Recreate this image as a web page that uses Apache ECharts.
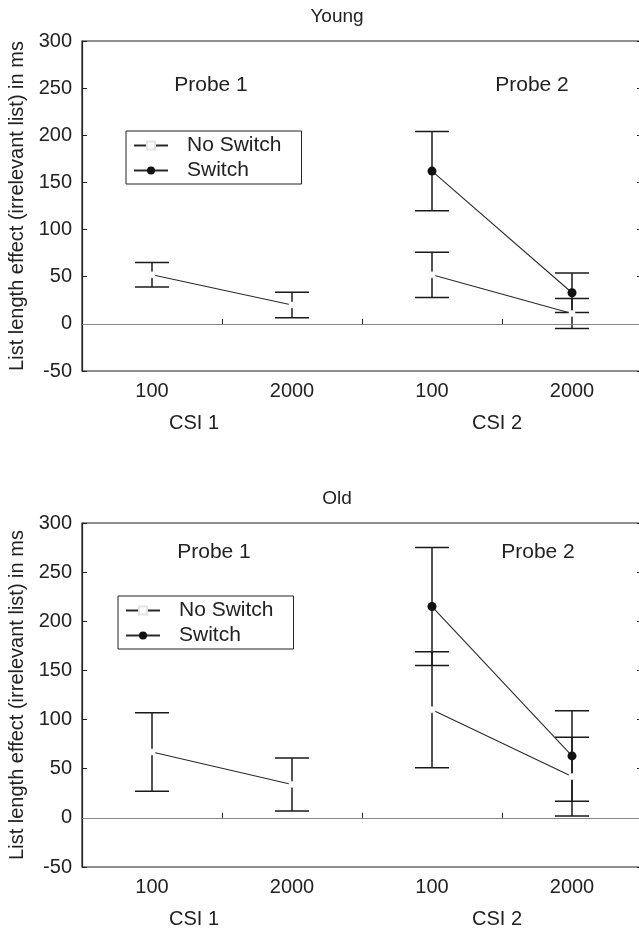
<!DOCTYPE html>
<html>
<head>
<meta charset="utf-8">
<script src="https://cdn.jsdelivr.net/npm/echarts@6/dist/echarts.min.js"></script>
<style>
html,body{margin:0;padding:0;background:#fff;}
#chart{width:639px;height:932px;}
</style>
</head>
<body>
<div id="chart"></div>
<script>
// ---- data ----
const categories = ['100', '2000', '100', '2000'];
const yTickMin = -50, yTickMax = 300, yTickStep = 50;

const youngNoSwitch    = [52, 20, 52, 11];
const youngNoSwitchErr = [13, 13.5, 24, 16];
const youngSwitch      = ['-', '-', 162, 33];
const youngSwitchErr   = ['-', '-', 42, 21];

const oldNoSwitch    = [67, 34, 110, 42];
const oldNoSwitchErr = [40, 27, 59, 40];
const oldSwitch      = ['-', '-', 215, 63];
const oldSwitchErr   = ['-', '-', 60, 46];

const panelTitles = ['Young', 'Old'];
const probeLabels = ['Probe 1', 'Probe 2'];
const csiLabels = ['CSI 1', 'CSI 2'];
const yName = 'List length effect (irrelevant list) in ms';
const seriesNames = ['No Switch', 'Switch'];

// ---- styling ----
const FONT = '"Liberation Sans", Arial, sans-serif';
const INK = '#222';

const chart = echarts.init(document.getElementById('chart'), null, {renderer: 'canvas'});

function probeSlice(vals, probe) {
  return vals.map((v, i) => (Math.floor(i / 2) === probe ? v : '-'));
}

function errData(vals, errs) {
  const out = [];
  vals.forEach((v, i) => {
    if (v !== '-' && errs[i] !== '-') out.push([i, v - errs[i], v + errs[i]]);
  });
  return out;
}

function errSeries(vals, errs, xi, yi) {
  return {
    type: 'custom',
    xAxisIndex: xi,
    yAxisIndex: yi,
    z: 2,
    silent: true,
    data: errData(vals, errs),
    encode: {x: 0, y: [1, 2]},
    renderItem: function (params, api) {
      const x = api.value(0);
      const lo = api.coord([x, api.value(1)]);
      const hi = api.coord([x, api.value(2)]);
      const hw = 17;
      const st = {stroke: '#1a1a1a', lineWidth: 1.5};
      return {
        type: 'group',
        children: [
          {type: 'line', shape: {x1: lo[0], y1: lo[1], x2: hi[0], y2: hi[1]}, style: st},
          {type: 'line', shape: {x1: lo[0] - hw, y1: lo[1], x2: lo[0] + hw, y2: lo[1]}, style: st},
          {type: 'line', shape: {x1: hi[0] - hw, y1: hi[1], x2: hi[0] + hw, y2: hi[1]}, style: st}
        ]
      };
    }
  };
}

function lineSeries(name, vals, probe, xi, yi, isSwitch) {
  return {
    type: 'line',
    name: name,
    xAxisIndex: xi,
    yAxisIndex: yi,
    z: 3,
    data: probeSlice(vals, probe),
    symbol: isSwitch ? 'circle' : 'rect',
    symbolSize: isSwitch ? 9 : 6,
    itemStyle: isSwitch
      ? {color: '#111', borderColor: '#111', borderWidth: 0}
      : {color: '#fff', borderColor: '#e4e4e4', borderWidth: 0.5},
    lineStyle: {color: '#2a2a2a', width: 1.1},
    emphasis: {disabled: true},
    animation: false
  };
}

function zeroLine(xi, yi) {
  return {
    type: 'line', xAxisIndex: xi, yAxisIndex: yi, data: [], silent: true, z: 1,
    markLine: {
      silent: true, symbol: ['none', 'none'], label: {show: false},
      lineStyle: {color: '#888', width: 1, type: 'solid'},
      data: [{yAxis: 0}],
      animation: false
    }
  };
}

const grids = [
  {left: 82, top: 41, width: 560, height: 330},
  {left: 82, top: 523, width: 560, height: 344}
];

const xAxes = grids.map((g, gi) => ({
  type: 'category',
  gridIndex: gi,
  data: categories,
  boundaryGap: true,
  axisLine: {show: true, lineStyle: {color: INK, width: 1.2}},
  axisTick: {show: true, inside: true, length: 5, lineStyle: {color: INK}},
  axisLabel: {fontSize: 20, color: INK, margin: 10, fontFamily: FONT},
  splitLine: {show: false}
}));

const yAxes = [];
grids.forEach((g, gi) => {
  yAxes.push({
    type: 'value', gridIndex: gi, position: 'left',
    min: yTickMin, max: yTickMax, interval: yTickStep,
    axisLine: {show: true, lineStyle: {color: INK, width: 1.2}},
    axisTick: {show: true, inside: true, length: 5, lineStyle: {color: INK}},
    axisLabel: {fontSize: 20, color: INK, margin: 10, fontFamily: FONT},
    splitLine: {show: false},
    name: yName, nameLocation: 'middle', nameGap: 54,
    nameTextStyle: {fontSize: 20, color: INK, fontFamily: FONT}
  });
  yAxes.push({
    type: 'value', gridIndex: gi, position: 'right',
    min: yTickMin, max: yTickMax, interval: yTickStep,
    axisLine: {show: true, lineStyle: {color: INK, width: 1.2}},
    axisTick: {show: true, inside: true, length: 5, lineStyle: {color: INK}},
    axisLabel: {show: false},
    splitLine: {show: false}
  });
});

const series = [
  zeroLine(0, 0),
  zeroLine(1, 2),
  errSeries(youngNoSwitch, youngNoSwitchErr, 0, 0),
  errSeries(youngSwitch, youngSwitchErr, 0, 0),
  errSeries(oldNoSwitch, oldNoSwitchErr, 1, 2),
  errSeries(oldSwitch, oldSwitchErr, 1, 2),
  lineSeries(seriesNames[0], youngNoSwitch, 0, 0, 0, false),
  lineSeries(seriesNames[0], youngNoSwitch, 1, 0, 0, false),
  lineSeries(seriesNames[1], youngSwitch, 1, 0, 0, true),
  lineSeries(seriesNames[0], oldNoSwitch, 0, 1, 2, false),
  lineSeries(seriesNames[0], oldNoSwitch, 1, 1, 2, false),
  lineSeries(seriesNames[1], oldSwitch, 1, 1, 2, true)
];

function legendBox(left, top) {
  return {
    data: seriesNames,
    orient: 'vertical',
    left: left, top: top,
    itemWidth: 34, itemHeight: 10, itemGap: 4,
    padding: [4, 20, 3, 7],
    borderColor: INK, borderWidth: 1,
    selectedMode: false,
    textStyle: {fontSize: 21, color: INK, fontFamily: FONT, lineHeight: 21, padding: [0, 0, 0, 14]}
  };
}

function txt(s, x, y, size) {
  return {
    type: 'text', x: x, y: y, silent: true,
    style: {text: s, font: size + 'px ' + FONT, fill: INK, textAlign: 'center', textVerticalAlign: 'middle'}
  };
}

const graphic = [
  txt(panelTitles[0], 337, 17, 19),
  txt(probeLabels[0], 211, 85, 21),
  txt(probeLabels[1], 532, 85, 21),
  txt(csiLabels[0], 194, 423, 20),
  txt(csiLabels[1], 497, 423, 20),
  txt(panelTitles[1], 337, 499, 19),
  txt(probeLabels[0], 214, 552, 21),
  txt(probeLabels[1], 538, 552, 21),
  txt(csiLabels[0], 194, 919, 20),
  txt(csiLabels[1], 497, 919, 20)
];

chart.setOption({
  animation: false,
  backgroundColor: '#fff',
  textStyle: {fontFamily: FONT},
  grid: grids.map(g => Object.assign({show: true, borderColor: INK, borderWidth: 1.2, backgroundColor: 'transparent', outerBoundsMode: 'none', containLabel: false}, g)),
  xAxis: xAxes,
  yAxis: yAxes,
  legend: [legendBox(126, 131), legendBox(118, 596)],
  graphic: graphic,
  series: series
});
</script>
</body>
</html>
